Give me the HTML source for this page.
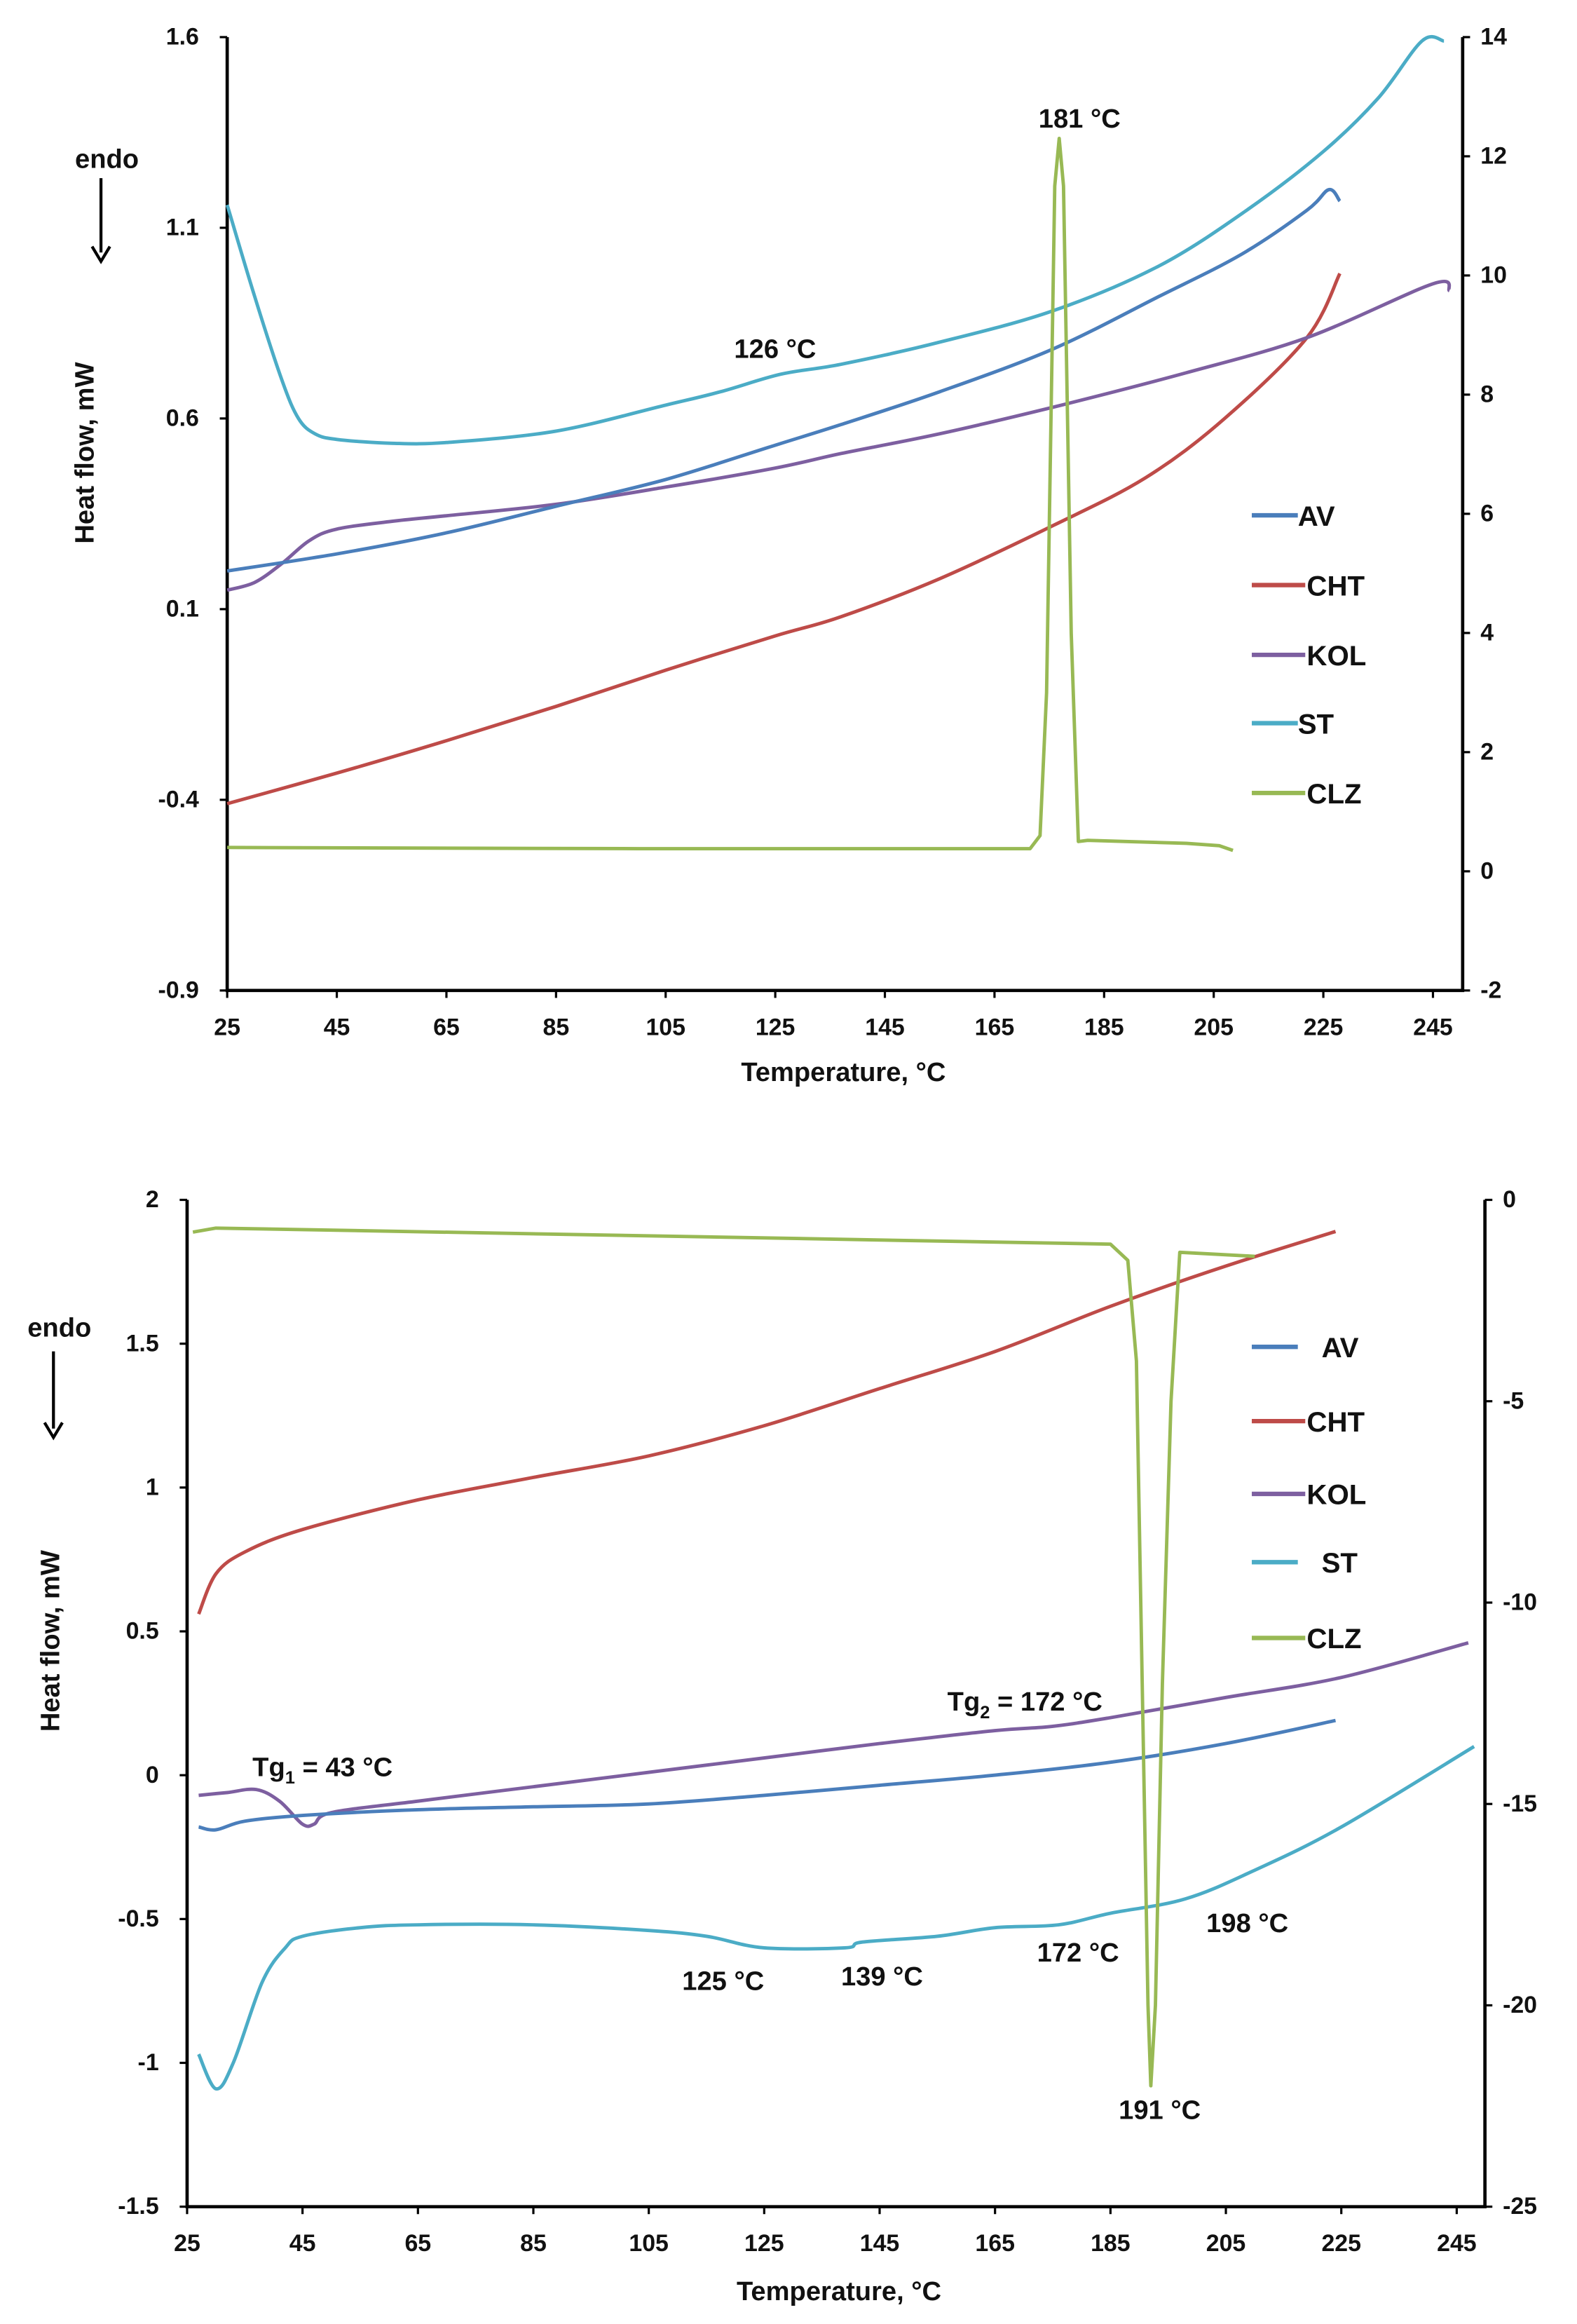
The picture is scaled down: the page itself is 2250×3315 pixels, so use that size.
<!DOCTYPE html>
<html><head><meta charset="utf-8"><style>
html,body{margin:0;padding:0;background:#fff}
svg{display:block}
text{font-family:"Liberation Sans",Arial,sans-serif;font-weight:bold;fill:#111}
</style></head><body>
<svg id="chart" width="2250" height="3315" viewBox="0 0 1062 1565" preserveAspectRatio="none" xmlns="http://www.w3.org/2000/svg"></svg>
<script>
// ---------- Top chart data ----------
const topXTicks=[25,45,65,85,105,125,145,165,185,205,225,245];
const topYTicks=[1.6,1.1,0.6,0.1,-0.4,-0.9];
const topY2Ticks=[14,12,10,8,6,4,2,0,-2];
const topAV=[[25,0.2],[45,0.245],[65,0.3],[85,0.37],[105,0.44],[125,0.53],[137,0.584],[155,0.67],[175.8,0.783],[195,0.92],[210,1.03],[222,1.146],[226,1.2],[228,1.17]];
const topCHT=[[25,-0.41],[45,-0.33],[65,-0.245],[85,-0.155],[105,-0.06],[125,0.03],[137,0.08],[155,0.18],[175.8,0.32],[192.5,0.444],[207,0.6],[222,0.812],[228,0.98]];
const topKOL=[[25,0.15],[30,0.17],[35,0.22],[40,0.28],[45,0.31],[55,0.33],[65,0.345],[85,0.375],[105,0.42],[125,0.47],[137,0.508],[155,0.56],[175.8,0.63],[200,0.72],[222,0.812],[245,0.953],[248,0.935]];
const topST=[[25,1.16],[30,0.92],[35,0.7],[38,0.6],[41,0.56],[45,0.545],[55,0.535],[65,0.537],[85,0.567],[105,0.635],[115,0.67],[126,0.716],[137,0.742],[155,0.8],[175.8,0.883],[195,1.0],[211,1.146],[225,1.3],[235,1.44],[243,1.59],[247,1.59]];
const topCLZ=[[25,0.4],[100,0.38],[171.5,0.38],[173.3,0.6],[174.5,3],[176,11.5],[176.8,12.3],[177.6,11.5],[179,4],[180.3,0.5],[182,0.52],[200,0.47],[206,0.43],[208.5,0.35]];
// ---------- Bottom chart data ----------
const botXTicks=[25,45,65,85,105,125,145,165,185,205,225,245];
const botYTicks=[2,1.5,1,0.5,0,-0.5,-1,-1.5];
const botY2Ticks=[0,-5,-10,-15,-20,-25];
const botAV=[[27,-0.18],[30,-0.19],[35,-0.16],[45,-0.14],[65,-0.12],[85,-0.11],[105,-0.1],[125,-0.07],[145,-0.035],[165,0],[185,0.045],[205,0.11],[224,0.19]];
const botCHT=[[27,0.56],[30,0.7],[35,0.776],[45,0.854],[65,0.957],[85,1.035],[105,1.11],[125,1.215],[145,1.344],[165,1.473],[185,1.63],[205,1.77],[224,1.89]];
const botKOL=[[27,-0.07],[32,-0.06],[37,-0.05],[41,-0.09],[45,-0.17],[47,-0.17],[50,-0.13],[65,-0.09],[85,-0.04],[105,0.01],[125,0.06],[145,0.11],[165,0.155],[175,0.17],[185,0.2],[205,0.27],[225,0.34],[247,0.46]];
const botST=[[27,-0.97],[30,-1.09],[33,-1.0],[38,-0.72],[42,-0.6],[45,-0.56],[55,-0.53],[65,-0.52],[85,-0.52],[105,-0.54],[115,-0.56],[125,-0.6],[139,-0.6],[142,-0.58],[155,-0.56],[165,-0.53],[176,-0.52],[185,-0.48],[198,-0.43],[210,-0.33],[225,-0.18],[248,0.1]];
const botCLZ=[[26,-0.8],[30,-0.7],[185,-1.1],[188,-1.5],[189.5,-4],[190.5,-12],[191.5,-20],[192,-22],[192.8,-20],[194,-12],[195.5,-5],[197,-1.3],[210,-1.4]];
const seriesNames=["AV","CHT","KOL","ST","CLZ"];
const colors={AV:"#4a7ebb",CHT:"#be4b48",KOL:"#7d5fa0",ST:"#4bacc6",CLZ:"#98b954"};

const svg=document.getElementById('chart');
const NS="http://www.w3.org/2000/svg";
function mk(tag,attrs,parent){const e=document.createElementNS(NS,tag);for(const k in attrs)e.setAttribute(k,attrs[k]);(parent||svg).appendChild(e);return e;}
function txt(s,x,y,size,anchor,parent){const t=mk('text',{x:x,y:y,'font-size':size,'text-anchor':anchor||'middle'},parent);t.textContent=s;return t;}
function smoothPath(pts){
  let d='M'+pts[0][0].toFixed(1)+','+pts[0][1].toFixed(1);
  for(let i=0;i<pts.length-1;i++){
    const p0=pts[i-1]||pts[i],p1=pts[i],p2=pts[i+1],p3=pts[i+2]||p2;
    const c1x=p1[0]+(p2[0]-p0[0])/6,c1y=p1[1]+(p2[1]-p0[1])/6;
    const c2x=p2[0]-(p3[0]-p1[0])/6,c2y=p2[1]-(p3[1]-p1[1])/6;
    d+=`C${c1x.toFixed(1)},${c1y.toFixed(1)} ${c2x.toFixed(1)},${c2y.toFixed(1)} ${p2[0].toFixed(1)},${p2[1].toFixed(1)}`;
  }
  return d;
}

function drawChart(cfg){
  const g=mk('g',{});
  
  
  const X=v=>cfg.x0+(v-cfg.t0)*(cfg.x1-cfg.x0)/(cfg.t1-cfg.t0);
  const Y=v=>cfg.yTop+(cfg.yMax-v)*(cfg.yBot-cfg.yTop)/(cfg.yMax-cfg.yMin);
  const Y2=v=>cfg.yTop+(cfg.y2Max-v)*(cfg.yBot-cfg.yTop)/(cfg.y2Max-cfg.y2Min);
  const ax=mk('path',{d:`M${cfg.x0},${cfg.yTop}V${cfg.yBot}H${cfg.xR}V${cfg.yTop}`,stroke:'#000','stroke-width':2.2,fill:'none'},g);
  
  
  cfg.xTicks.forEach(t=>{mk('line',{x1:X(t),x2:X(t),y1:cfg.yBot,y2:cfg.yBot+5,stroke:'#000','stroke-width':1.5},g);
    const l=txt(t,X(t),cfg.yBot+30,16,'middle',g);
    
    });
  cfg.yTicks.forEach(t=>{mk('line',{x1:cfg.x0-5,x2:cfg.x0,y1:Y(t),y2:Y(t),stroke:'#000','stroke-width':1.5},g);
    const l=txt(t,cfg.x0-19,Y(t)+5,16,'end',g);
    
    });
  cfg.y2Ticks.forEach(t=>{mk('line',{x1:cfg.xR,x2:cfg.xR+5,y1:Y2(t),y2:Y2(t),stroke:'#000','stroke-width':1.5},g);
    const l=txt(t,cfg.xR+12,Y2(t)+5,16,'start',g);
    
    });
  cfg.series.forEach(s=>{
    const f=s.right?Y2:Y;
    const pts=s.data.map(p=>[X(p[0]),f(p[1])]);
    const d=s.right?pts.map((p,i)=>(i?'L':'M')+p[0].toFixed(1)+','+p[1].toFixed(1)).join(''):smoothPath(pts);
    const p=mk('path',{d:d,stroke:colors[s.n],'stroke-width':2.3,fill:'none','stroke-linejoin':'round'},g);
    
    
  });
  seriesNames.forEach((n,i)=>{
    const y=cfg.legY[i];
    const lg=mk('g',{},g);
    
    
    mk('line',{x1:843,x2:(n==='AV'||n==='ST')?874:879,y1:y,y2:y,stroke:colors[n],'stroke-width':3},lg);
    txt(n,(n==='AV'||n==='ST')?cfg.legShort:880,y+7,19,'start',lg);
  });
  const xt=txt('Temperature, °C',cfg.xTitle[0],cfg.xTitle[1],18,'middle',g);
  
  
  const yt=txt('Heat flow, mW',0,0,18,'middle',g);
  yt.setAttribute('transform',`translate(${cfg.yTitle[0]},${cfg.yTitle[1]}) rotate(-90)`);
  
  
  const en=txt('endo',cfg.endo[0],cfg.endo[1],18,'middle',g);
  
  
  const ar=mk('g',{},g);
  
  
  mk('line',{x1:cfg.arrow[0],x2:cfg.arrow[0],y1:cfg.arrow[1],y2:cfg.arrow[2]-6,stroke:'#000','stroke-width':2},ar);
  mk('path',{d:`M${cfg.arrow[0]-6},${cfg.arrow[2]-10}L${cfg.arrow[0]},${cfg.arrow[2]}L${cfg.arrow[0]+6},${cfg.arrow[2]-10}`,stroke:'#000','stroke-width':2,fill:'none'},ar);
  cfg.notes.forEach(nt=>{
    const t=mk('text',{x:nt[1],y:nt[2],'font-size':18,'text-anchor':nt[3]||'middle'},g);
    t.innerHTML=nt[0];
    
    
  });
}

drawChart({name:'top-chart',x0:153,x1:965,t0:25,t1:245,xR:985,yTop:25,yBot:667,yMax:1.6,yMin:-0.9,y2Max:14,y2Min:-2,
  xTicks:topXTicks,yTicks:topYTicks,y2Ticks:topY2Ticks,
  series:[{n:'CHT',data:topCHT},{n:'KOL',data:topKOL},{n:'AV',data:topAV},{n:'ST',data:topST},{n:'CLZ',data:topCLZ,right:true}],
  legY:[347,394,441,487,534],legShort:874,xTitle:[568,728],yTitle:[63,305],endo:[72,113],arrow:[68,120,176],
  notes:[['126 °C',522,241],['181 °C',727,86]]});

drawChart({name:'bottom-chart',x0:126,x1:981,t0:25,t1:245,xR:1000,yTop:808,yBot:1486,yMax:2,yMin:-1.5,y2Max:0,y2Min:-25,
  xTicks:botXTicks,yTicks:botYTicks,y2Ticks:botY2Ticks,
  series:[{n:'CHT',data:botCHT},{n:'KOL',data:botKOL},{n:'AV',data:botAV},{n:'ST',data:botST},{n:'CLZ',data:botCLZ,right:true}],
  legY:[907,957,1006,1052,1103],legShort:890,xTitle:[565,1549],yTitle:[40,1105],endo:[40,900],arrow:[36,910,968],
  notes:[['Tg<tspan font-size="12" dy="5">1</tspan><tspan dy="-5"> = 43 °C</tspan>',170,1196,'start'],
         ['Tg<tspan font-size="12" dy="5">2</tspan><tspan dy="-5"> = 172 °C</tspan>',638,1152,'start'],
         ['125 °C',487,1340],['139 °C',594,1337],['172 °C',726,1321],['198 °C',840,1301],['191 °C',781,1427]]});
</script>
</body></html>
